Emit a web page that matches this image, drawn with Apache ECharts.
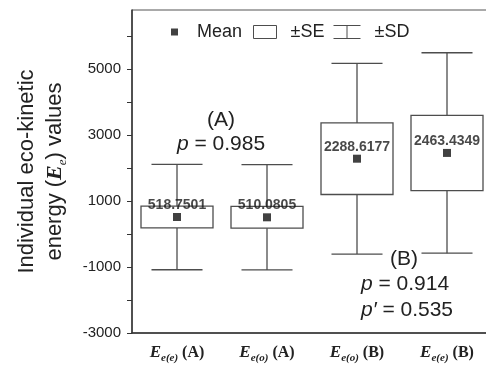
<!DOCTYPE html>
<html><head><meta charset="utf-8">
<script src="https://cdn.jsdelivr.net/npm/echarts@6/dist/echarts.min.js"></script>
<style>html,body{margin:0;padding:0;background:#fff}#c{width:486px;height:365px}</style>
</head><body><div id="c"></div>
<script>
// ---- data ----
const subscripts = ['e(e)', 'e(o)', 'e(o)', 'e(e)'];
const groups = ['(A)', '(A)', '(B)', '(B)'];
const categories = subscripts.map((s, i) => 'E' + s + ' ' + groups[i]);
const means = [518.7501, 510.0805, 2288.6177, 2463.4349];
const se = [330, 330, 1086, 1141];
const sd = [1600, 1597, 2894, 3040];
const yTicks = [-3000, -2000, -1000, 0, 1000, 2000, 3000, 4000, 5000, 6000];
const yLabels = [-3000, -1000, 1000, 3000, 5000];

const SANS = "'Liberation Sans', Arial, sans-serif";
const SERIF = "'Liberation Serif', 'Times New Roman', serif";
const LINE = '#4d4d4d';
const TXT = '#222';

const chart = echarts.init(document.getElementById('c'), null, {renderer: 'canvas'});

const option = {
  animation: false,
  backgroundColor: '#fff',
  grid: {left: 132, right: -6, top: 10, bottom: 32, show: true, borderColor: '#555', borderWidth: 1,
         backgroundColor: 'transparent', containLabel: false, outerBoundsMode: 'none'},
  legend: [
    {data: [{name: 'Mean', icon: 'rect'}], left: 171, top: 23, padding: 0, itemWidth: 7, itemHeight: 7,
     selectedMode: false, textStyle: {fontSize: 18, color: TXT, fontFamily: SANS, padding: [0, 0, 0, 14]}},
    {data: [{name: '±SE', icon: 'rect', itemStyle: {color: '#fff', borderColor: LINE, borderWidth: 1}}],
     left: 253, top: 23, padding: 0, itemWidth: 23, itemHeight: 13, selectedMode: false,
     textStyle: {fontSize: 18, color: TXT, fontFamily: SANS, padding: [0, 0, 0, 9]}},
    {data: [{name: '±SD', icon: 'path://M0,0H27M13.5,0V13M0,13H27',
             itemStyle: {color: 'none', borderColor: LINE, borderWidth: 1}}],
     left: 331, top: 23, padding: 0, itemWidth: 27, itemHeight: 13, selectedMode: false,
     textStyle: {fontSize: 18, color: TXT, fontFamily: SANS, padding: [0, 0, 0, 9]}}
  ],
  xAxis: {
    type: 'category', data: categories, boundaryGap: true,
    axisLine: {onZero: false, lineStyle: {color: '#333', width: 1.5}},
    axisTick: {alignWithLabel: true, length: 4, lineStyle: {color: '#333'}},
    splitLine: {show: false},
    axisLabel: {
      interval: 0, margin: 9, color: TXT, fontFamily: SERIF, fontWeight: 'bold', fontSize: 16,
      formatter: (v, i) => '{E|E}{s|' + subscripts[i] + '} {g|' + groups[i] + '}',
      rich: {
        E: {fontFamily: SERIF, fontStyle: 'italic', fontWeight: 'bold', fontSize: 17, lineHeight: 22, color: TXT},
        s: {fontFamily: SERIF, fontStyle: 'italic', fontWeight: 'bold', fontSize: 11, lineHeight: 8, verticalAlign: 'bottom', color: TXT},
        g: {fontFamily: SERIF, fontWeight: 'bold', fontSize: 16, lineHeight: 22, color: TXT}
      }
    }
  },
  yAxis: {
    type: 'value', min: -3000, max: 6800, interval: 1000,
    splitLine: {show: false},
    axisLine: {show: true, lineStyle: {color: '#333', width: 1.5}},
    axisTick: {show: true, length: 5, customValues: yTicks, lineStyle: {color: '#333'}},
    axisLabel: {customValues: yLabels, formatter: v => String(v), fontSize: 15, color: TXT, fontFamily: SANS, margin: 11},
    name: 'Individual eco-kinetic\nenergy ({E|E}{s|e}) values',
    nameLocation: 'middle', nameRotate: 90, nameGap: 63,
    nameTextStyle: {
      fontSize: 22, color: TXT, fontFamily: SANS, lineHeight: 28,
      rich: {
        E: {fontFamily: SERIF, fontStyle: 'italic', fontWeight: 'bold', fontSize: 22, lineHeight: 28, color: TXT},
        s: {fontFamily: SERIF, fontStyle: 'italic', fontSize: 13, lineHeight: 10, verticalAlign: 'bottom', color: TXT}
      }
    }
  },
  series: [
    {
      name: '±SD', type: 'custom', z: 1,
      data: categories.map((c, i) => [i, means[i], sd[i]]),
      encode: {x: 0, y: 1},
      renderItem: (params, api) => {
        const x = api.value(0), m = api.value(1), d = api.value(2);
        const top = api.coord([x, m + d]);
        const bot = api.coord([x, m - d]);
        const band = api.size([1, 0])[0];
        const cap = band * 0.567;
        const st = {stroke: LINE, lineWidth: 1.3};
        return {type: 'group', children: [
          {type: 'line', shape: {x1: top[0], y1: top[1], x2: bot[0], y2: bot[1]}, style: st},
          {type: 'line', shape: {x1: top[0] - cap / 2, y1: top[1], x2: top[0] + cap / 2, y2: top[1]}, style: st},
          {type: 'line', shape: {x1: bot[0] - cap / 2, y1: bot[1], x2: bot[0] + cap / 2, y2: bot[1]}, style: st}
        ]};
      }
    },
    {
      name: '±SE', type: 'custom', z: 2,
      data: categories.map((c, i) => [i, means[i], se[i]]),
      encode: {x: 0, y: 1},
      renderItem: (params, api) => {
        const x = api.value(0), m = api.value(1), s = api.value(2);
        const top = api.coord([x, m + s]);
        const bot = api.coord([x, m - s]);
        const w = api.size([1, 0])[0] * 0.8;
        return {type: 'rect', shape: {x: top[0] - w / 2, y: top[1], width: w, height: bot[1] - top[1]},
                style: {fill: '#fff', stroke: LINE, lineWidth: 1.3}};
      }
    },
    {
      name: 'Mean', type: 'scatter', z: 3,
      data: means.map((m, i) => [i, m]),
      symbol: 'rect', symbolSize: 8,
      itemStyle: {color: '#111'},
      label: {
        show: true, position: 'inside', offset: [0, -12],
        formatter: p => means[p.dataIndex].toFixed(4),
        fontFamily: SANS, fontWeight: 'bold', fontSize: 14, color: '#1a1a1a'
      }
    }
  ],
  graphic: [
    {type: 'text', x: 221, y: 120, style: {text: '(A)', fontSize: 21, fontFamily: SANS, fill: TXT, align: 'center', verticalAlign: 'middle'}},
    {type: 'text', x: 221, y: 144, style: {text: '{i|p} = 0.985', fontSize: 21, fontFamily: SANS, fill: TXT, align: 'center', verticalAlign: 'middle',
      rich: {i: {fontStyle: 'italic', fontSize: 21, fontFamily: SANS, fill: TXT}}}},
    {type: 'text', x: 404, y: 259, style: {text: '(B)', fontSize: 21, fontFamily: SANS, fill: TXT, align: 'center', verticalAlign: 'middle'}},
    {type: 'text', x: 405, y: 284, style: {text: '{i|p} = 0.914', fontSize: 21, fontFamily: SANS, fill: TXT, align: 'center', verticalAlign: 'middle',
      rich: {i: {fontStyle: 'italic', fontSize: 21, fontFamily: SANS, fill: TXT}}}},
    {type: 'text', x: 407, y: 310, style: {text: '{i|p′} = 0.535', fontSize: 21, fontFamily: SANS, fill: TXT, align: 'center', verticalAlign: 'middle',
      rich: {i: {fontStyle: 'italic', fontSize: 21, fontFamily: SANS, fill: TXT}}}}
  ]
};
chart.setOption(option);
</script>
</body></html>
